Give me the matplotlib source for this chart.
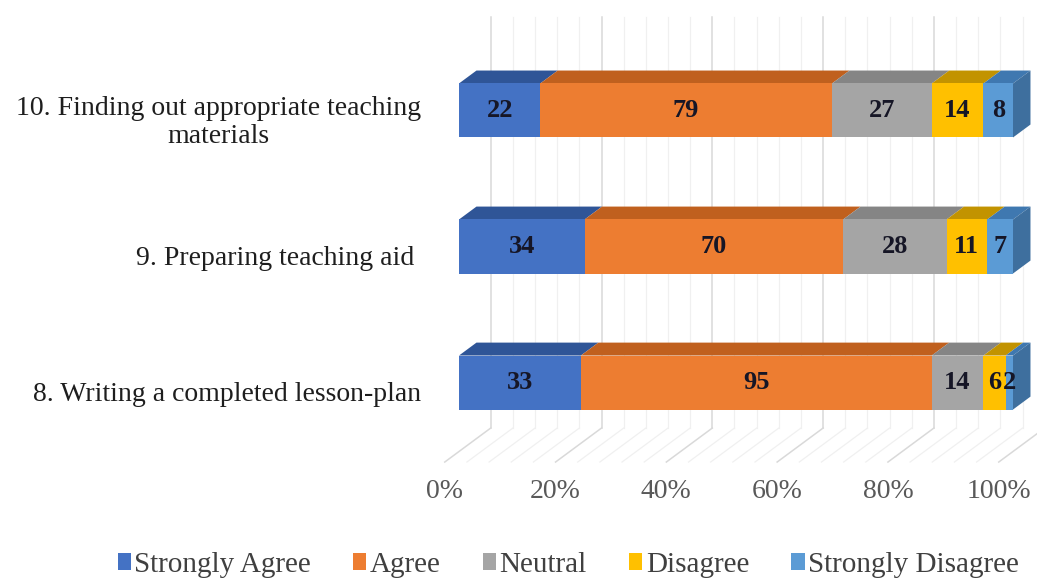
import matplotlib
matplotlib.use("Agg")
import matplotlib.pyplot as plt
from matplotlib.patches import Polygon, Patch

plt.rcParams["font.family"] = ["Liberation Serif", "DejaVu Serif"]

# bottom to top on the chart
CATEGORIES = [
    "8. Writing a completed lesson-plan",
    "9. Preparing teaching aid ",
    "10. Finding out appropriate teaching\nmaterials",
]
SERIES = ["Strongly Agree", "Agree", "Neutral", "Disagree", "Strongly Disagree"]
strongly_agree    = [33, 34, 22]
agree             = [95, 70, 79]
neutral           = [14, 28, 27]
disagree          = [6, 11, 14]
strongly_disagree = [2, 7, 8]
X_TICKS = [0, 20, 40, 60, 80, 100]

C_FRONT = ["#4472C4", "#ED7D31", "#A5A5A5", "#FFC000", "#5B9BD5"]
C_TOP   = ["#2F5597", "#C0601E", "#858585", "#C29300", "#3F78B0"]
C_SIDE  = "#3E6F9E"
C_MAJOR = "#D9D9D9"
C_MINOR = "#F0F0F0"

# fake 3d: oblique depth offset per unit of depth, in data units
DX, DY = 8.30, 0.25
BAR_DEPTH = 0.38
WALL = 0.69          # back wall behind the bar fronts
FLOOR_FRONT = -0.31  # front edge of the floor
Y_LO, Y_HI = -0.507, 2.518
WALL_TOP = 2.69
BAR_H = 0.397

values = [strongly_agree, agree, neutral, disagree, strongly_disagree]
totals = [sum(v[j] for v in values) for j in range(len(CATEGORIES))]
ypos = list(range(len(CATEGORIES)))

fig = plt.figure(figsize=(10.37, 5.81), dpi=100)
ax = fig.add_axes([459 / 1037, 129.5 / 581, 554 / 1037, 411.5 / 581])
ax.set_xlim(0, 100)
ax.set_ylim(Y_LO, Y_HI)
ax.axis("off")

# back wall and floor grid (minor every 4%, major every 20%)
for p in range(0, 101, 4):
    major = p % 20 == 0
    col = C_MAJOR if major else C_MINOR
    lw = 1.1 if major else 0.9
    xw, yw = p + WALL * DX, Y_LO + WALL * DY
    ax.plot([xw, xw], [yw, WALL_TOP], color=col, lw=lw, zorder=0, clip_on=False)
    ax.plot([xw, p + FLOOR_FRONT * DX], [yw, Y_LO + FLOOR_FRONT * DY],
            color=col, lw=lw, zorder=0, clip_on=False)

for p in X_TICKS:
    ax.annotate(f"{p}%", (p + FLOOR_FRONT * DX, Y_LO + FLOOR_FRONT * DY),
                xytext=(0, -29), textcoords="offset pixels",
                ha="center", va="center", fontsize=20, color="#595959",
                annotation_clip=False)

bx, by = BAR_DEPTH * DX, BAR_DEPTH * DY
lefts = [0.0] * len(CATEGORIES)
for i, series in enumerate(values):
    widths = [v / t * 100 for v, t in zip(series, totals)]
    ax.barh(ypos, widths, left=lefts, height=BAR_H, color=C_FRONT[i],
            zorder=3, clip_on=False)
    for j, (l, w) in enumerate(zip(lefts, widths)):
        top = ypos[j] + BAR_H / 2
        ax.add_patch(Polygon([(l, top), (l + w, top), (l + w + bx, top + by),
                              (l + bx, top + by)], closed=True,
                             facecolor=C_TOP[i], edgecolor="none", zorder=2.5,
                             clip_on=False))
        ax.text(l + w / 2, ypos[j], str(series[j]), ha="center", va="center",
                fontsize=19, fontweight="bold", color="#161626", zorder=5)
    lefts = [l + w for l, w in zip(lefts, widths)]

# right-hand end faces
for j, end in enumerate(lefts):
    y0, y1 = ypos[j] - BAR_H / 2, ypos[j] + BAR_H / 2
    ax.add_patch(Polygon([(end, y0), (end, y1), (end + bx, y1 + by),
                          (end + bx, y0 + by)], closed=True,
                         facecolor=C_SIDE, edgecolor="none", zorder=2.5,
                         clip_on=False))

for y, label in zip(ypos, CATEGORIES):
    ax.annotate(label, (0, y), xytext=(-38, -12), textcoords="offset pixels",
                ha="right", va="center", multialignment="center",
                fontsize=20, color="#1E1E1E", linespacing=1.15,
                annotation_clip=False)

handles = [Patch(facecolor=c, edgecolor="none") for c in C_FRONT]
fig.legend(handles, SERIES, loc="center", bbox_to_anchor=(0.548, 0.028),
           ncol=5, frameon=False, fontsize=21, labelcolor="#404040",
           handlelength=0.45, handleheight=0.55, handletextpad=0.12,
           columnspacing=1.45)

fig.savefig("out.png", dpi=100)
